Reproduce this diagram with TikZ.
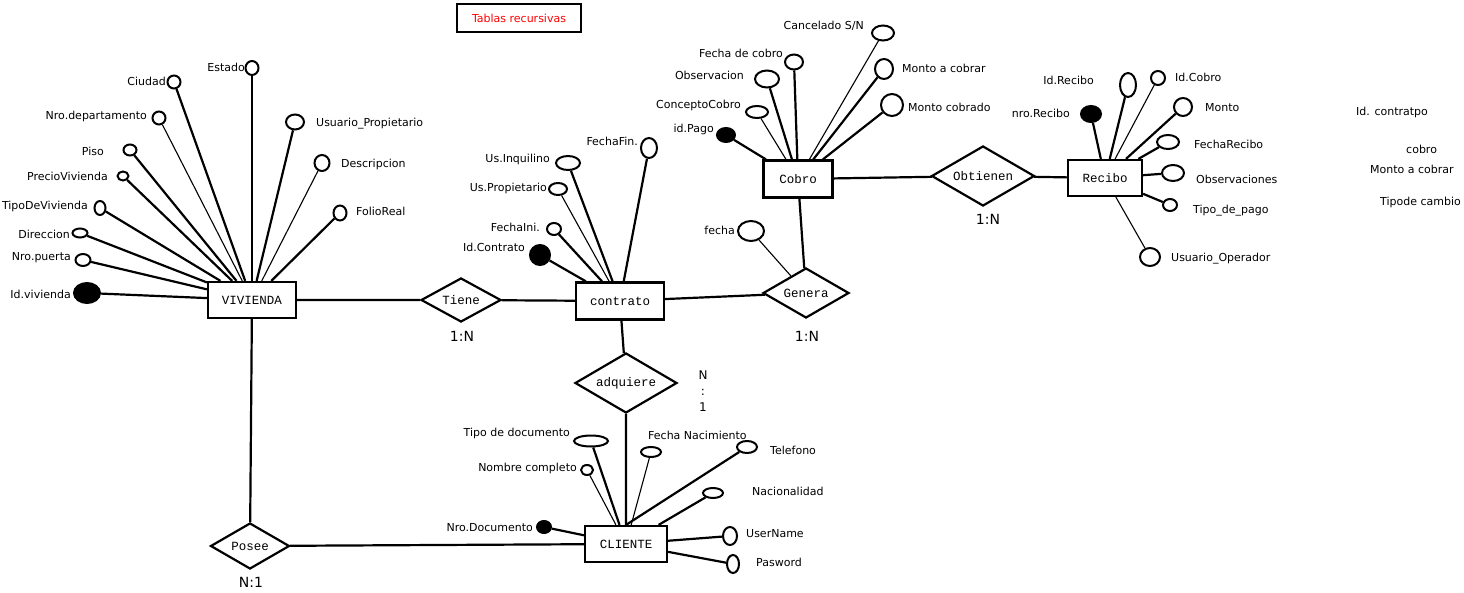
\documentclass[tikz,border=0pt]{standalone}
\usepackage{fontspec}
\setmainfont{DejaVu Sans}
\newfontfamily\monofont{Liberation Mono}
\usetikzlibrary{shapes.geometric}

\tikzset{
  entidad/.style={draw, line width=2.2pt, inner sep=0pt, font=\monofont\fontsize{12.5}{14}\selectfont},
  relacion/.style={draw, diamond, line width=2.2pt, inner sep=0pt, font=\monofont\fontsize{12.5}{14}\selectfont},
  atrib/.style={draw, ellipse, line width=2pt, inner sep=0pt},
  clave/.style={atrib, fill=black},
  lbl/.style={inner sep=0pt, font=\fontsize{11}{13}\selectfont},
  card/.style={inner sep=0pt, font=\fontsize{14}{16}\selectfont},
  grueso/.style={line width=2.2pt},
  fino/.style={line width=1.1pt}
}

\begin{document}
\begin{tikzpicture}[x=1pt, y=-1pt]
        \useasboundingbox (0,0) rectangle (1464,593);

        \node[draw, line width=2pt, minimum width=124pt, minimum height=28pt, lbl, text=red] (titulo) at (519,18) {Tablas recursivas};

        % entidades
        \node[entidad, minimum width=88pt, minimum height=36pt] (viv) at (252,300) {VIVIENDA};
        \node[entidad, minimum width=88pt, minimum height=37pt] (con) at (620,301) {contrato};
        \node[entidad, minimum width=69pt, minimum height=37pt] (cob) at (798,179) {Cobro};
        \node[entidad, minimum width=74pt, minimum height=36pt] (rec) at (1105,178) {Recibo};
        \node[entidad, minimum width=82pt, minimum height=36pt] (cli) at (626,544) {CLIENTE};

        % relaciones
        \node[relacion, minimum width=80pt, minimum height=44pt, aspect=1.8] (tiene) at (461,300) {Tiene};
        \node[relacion, minimum width=86pt, minimum height=50pt, aspect=1.7] (genera) at (806,293) {Genera};
        \node[relacion, minimum width=103pt, minimum height=60pt, aspect=1.7] (obt) at (983,176) {Obtienen};
        \node[relacion, minimum width=102pt, minimum height=60pt, aspect=1.7] (adq) at (626,383) {adquiere};
        \node[relacion, minimum width=79pt, minimum height=46pt, aspect=1.7] (posee) at (250,546) {Posee};

        \draw[grueso] (viv) -- (tiene) -- (con) -- (genera) -- (cob) -- (obt) -- (rec);
        \draw[grueso] (con) -- (adq) -- (cli);
        \draw[grueso] (viv) -- (posee) -- (cli);

        \node[card] (c1) at (462,336) {1:N};
        \node[card] (c2) at (807,336) {1:N};
        \node[card] (c3) at (988,219) {1:N};
        \node[card] (c4) at (251,582) {N:1};
        \node[lbl, align=center, font=\fontsize{12}{16}\selectfont] (c5) at (703,391) {N\\:\\1};

        % atributos de VIVIENDA
        \node[atrib, minimum width=13pt, minimum height=14pt] (estado) at (252,68) {};
        \node[atrib, minimum width=13pt, minimum height=13pt] (ciudad) at (174,82) {};
        \node[atrib, minimum width=13pt, minimum height=13pt] (nrodep) at (159,118) {};
        \node[atrib, minimum width=18pt, minimum height=15pt] (usuprop) at (295,122) {};
        \node[atrib, minimum width=13pt, minimum height=11pt] (piso) at (130,150) {};
        \node[atrib, minimum width=15pt, minimum height=16pt] (desc) at (322,163) {};
        \node[atrib, minimum width=11pt, minimum height=9pt] (precio) at (123,176) {};
        \node[atrib, minimum width=11pt, minimum height=14pt] (tipoviv) at (100,208) {};
        \node[atrib, minimum width=13pt, minimum height=15pt] (folio) at (340,213) {};
        \node[atrib, minimum width=15pt, minimum height=9pt] (direc) at (80,233) {};
        \node[atrib, minimum width=15pt, minimum height=12pt] (nropuerta) at (83,260) {};
        \node[clave, minimum width=26pt, minimum height=20pt] (idviv) at (87,293) {};

        \foreach \a in {estado, ciudad, usuprop, piso, precio, tipoviv, folio, direc, nropuerta, idviv}
            \draw[grueso] (\a) -- (viv);
        \foreach \a in {nrodep, desc}
            \draw[fino] (\a) -- (viv);

        \node[lbl, anchor=east] (tEstado) at (245,67) {Estado};
        \node[lbl, anchor=east] (tCiudad) at (166,81) {Ciudad};
        \node[lbl, anchor=east] (tNrodep) at (147,116) {Nro.departamento};
        \node[lbl, anchor=west] (tUsuprop) at (316,124) {Usuario\_Propietario};
        \node[lbl, anchor=east] (tPiso) at (104,151) {Piso};
        \node[lbl, anchor=west] (tDesc) at (341,164) {Descripcion};
        \node[lbl, anchor=east] (tPrecio) at (108,176) {PrecioVivienda};
        \node[lbl, anchor=east] (tTipoviv) at (88,206) {TipoDeVivienda};
        \node[lbl, anchor=west] (tFolio) at (356,211) {FolioReal};
        \node[lbl, anchor=east] (tDirec) at (70,234) {Direccion};
        \node[lbl, anchor=east] (tNropuerta) at (71,258) {Nro.puerta};
        \node[lbl, anchor=east] (tIdviv) at (71,294) {Id.vivienda};

        % atributos de contrato
        \node[atrib, minimum width=16pt, minimum height=20pt] (fechafin) at (649,148) {};
        \node[atrib, minimum width=24pt, minimum height=14pt] (usinq) at (568,163) {};
        \node[atrib, minimum width=18pt, minimum height=12pt] (usprop) at (558,189) {};
        \node[atrib, minimum width=14pt, minimum height=12pt] (fechaini) at (554,229) {};
        \node[clave, minimum width=20pt, minimum height=20pt] (idcon) at (540,255) {};

        \foreach \a in {fechafin, usinq, fechaini, idcon}
            \draw[grueso] (\a) -- (con);
        \draw[fino] (usprop) -- (con);

        \node[lbl, anchor=east] (tFechafin) at (638,141) {FechaFin.};
        \node[lbl, anchor=east] (tUsinq) at (550,159) {Us.Inquilino};
        \node[lbl, anchor=east] (tUsprop) at (547,188) {Us.Propietario};
        \node[lbl, anchor=east] (tFechaini) at (540,227) {FechaIni.};
        \node[lbl, anchor=east] (tIdcon) at (525,247) {Id.Contrato};

        % atributos de Cobro
        \node[atrib, minimum width=22pt, minimum height=15pt] (cancel) at (883,33) {};
        \node[atrib, minimum width=18pt, minimum height=15pt] (fechacob) at (794,62) {};
        \node[atrib, minimum width=18pt, minimum height=20pt] (montoac) at (884,69) {};
        \node[atrib, minimum width=24pt, minimum height=17pt] (observ) at (767,79) {};
        \node[atrib, minimum width=22pt, minimum height=12pt] (concepto) at (757,112) {};
        \node[atrib, minimum width=22pt, minimum height=22pt] (montoco) at (892,105) {};
        \node[clave, minimum width=18pt, minimum height=14pt] (idpago) at (726,135) {};

        \foreach \a in {fechacob, montoac, observ, montoco, idpago}
            \draw[grueso] (\a) -- (cob);
        \foreach \a in {cancel, concepto}
            \draw[fino] (\a) -- (cob);

        \node[lbl, anchor=east] (tCancel) at (864,26) {Cancelado S/N};
        \node[lbl, anchor=east] (tFechacob) at (783,53) {Fecha de cobro};
        \node[lbl, anchor=west] (tMontoac) at (902,68) {Monto a cobrar};
        \node[lbl, anchor=east] (tObserv) at (744,75) {Observacion};
        \node[lbl, anchor=east] (tConcepto) at (741,105) {ConceptoCobro};
        \node[lbl, anchor=west] (tMontoco) at (908,107) {Monto cobrado};
        \node[lbl, anchor=east] (tIdpago) at (714,129) {id.Pago};

        % atributo de Genera
        \node[atrib, minimum width=26pt, minimum height=20pt] (fecha) at (751,231) {};
        \draw[fino] (fecha) -- (genera);
        \node[lbl, anchor=east] (tFecha) at (735,230) {fecha};

        % atributos de Recibo
        \node[atrib, minimum width=16pt, minimum height=24pt] (idrec) at (1128,85) {};
        \node[atrib, minimum width=14pt, minimum height=14pt] (idcob) at (1158,78) {};
        \node[clave, minimum width=20pt, minimum height=16pt] (nrorec) at (1091,114) {};
        \node[atrib, minimum width=18pt, minimum height=18pt] (monto) at (1183,107) {};
        \node[atrib, minimum width=22pt, minimum height=14pt] (fecharec) at (1168,142) {};
        \node[atrib, minimum width=22pt, minimum height=16pt] (observs) at (1173,173) {};
        \node[atrib, minimum width=14pt, minimum height=12pt] (tipopago) at (1170,205) {};
        \node[atrib, minimum width=20pt, minimum height=18pt] (usuop) at (1150,257) {};

        \foreach \a in {idrec, nrorec, monto, fecharec, observs, tipopago}
            \draw[grueso] (\a) -- (rec);
        \foreach \a in {idcob, usuop}
            \draw[fino] (\a) -- (rec);

        \node[lbl, anchor=east] (tIdrec) at (1094,80) {Id.Recibo};
        \node[lbl, anchor=west] (tIdcob) at (1175,77) {Id.Cobro};
        \node[lbl, anchor=east] (tNrorec) at (1070,113) {nro.Recibo};
        \node[lbl, anchor=west] (tMonto) at (1205,108) {Monto};
        \node[lbl, anchor=west] (tFecharec) at (1194,144) {FechaRecibo};
        \node[lbl, anchor=west] (tObservs) at (1196,179) {Observaciones};
        \node[lbl, anchor=west] (tTipopago) at (1193,211) {Tipo\_de\_pago};
        \node[lbl, anchor=west] (tUsuop) at (1171,259) {Usuario\_Operador};

        % textos sueltos
        \node[lbl, anchor=west] (nota1) at (1356,112) {Id. contratpo};
        \node[lbl, anchor=west] (nota2) at (1406,149) {cobro};
        \node[lbl, anchor=west] (nota3) at (1370,169) {Monto a cobrar};
        \node[lbl, anchor=west] (nota4) at (1380,202) {Tipode cambio};

        % atributos de CLIENTE
        \node[atrib, minimum width=34pt, minimum height=11pt] (tipodoc) at (591,441) {};
        \node[atrib, minimum width=20pt, minimum height=10pt] (fechanac) at (651,452) {};
        \node[atrib, minimum width=20pt, minimum height=12pt] (telef) at (747,447) {};
        \node[atrib, minimum width=12pt, minimum height=10pt] (nombre) at (587,470) {};
        \node[atrib, minimum width=20pt, minimum height=10pt] (nacion) at (713,493) {};
        \node[clave, minimum width=14pt, minimum height=12pt] (nrodoc) at (544,527) {};
        \node[atrib, minimum width=14pt, minimum height=18pt] (usern) at (730,536) {};
        \node[atrib, minimum width=12pt, minimum height=18pt] (pasw) at (733,564) {};

        \foreach \a in {tipodoc, nacion, nrodoc, usern, pasw}
            \draw[grueso] (\a) -- (cli);
        \draw[grueso] (telef) -- (cli.north);
        \foreach \a in {fechanac, nombre}
            \draw[fino] (\a) -- (cli);

        \node[lbl, anchor=east] (tTipodoc) at (570,433) {Tipo de documento};
        \node[lbl, anchor=west] (tFechanac) at (648,435) {Fecha Nacimiento};
        \node[lbl, anchor=west] (tTelef) at (770,450) {Telefono};
        \node[lbl, anchor=east] (tNombre) at (577,468) {Nombre completo};
        \node[lbl, anchor=west] (tNacion) at (752,491) {Nacionalidad};
        \node[lbl, anchor=east] (tNrodoc) at (533,528) {Nro.Documento};
        \node[lbl, anchor=west] (tUsern) at (746,534) {UserName};
        \node[lbl, anchor=west] (tPasw) at (756,562) {Pasword};
\end{tikzpicture}
\end{document}
